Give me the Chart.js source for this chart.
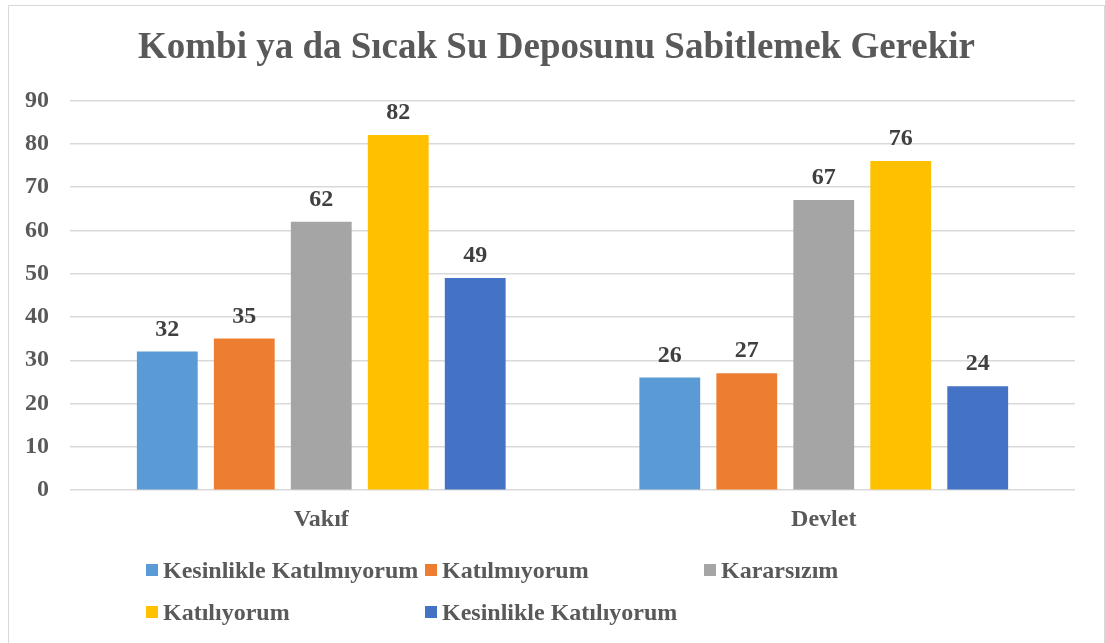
<!DOCTYPE html>
<html>
<head>
<meta charset="utf-8">
<script src="https://cdn.jsdelivr.net/npm/chart.js@4/dist/chart.umd.min.js"></script>
<style>
    html, body { margin: 0; padding: 0; background: #fff; }
    #wrap { position: relative; width: 1105px; height: 643px; overflow: hidden; }
    #frame { position: absolute; left: 8px; top: 5px; width: 1097px; height: 660px; border: 1px solid #d9d9d9; box-sizing: border-box; pointer-events: none; }
    #legend { position: absolute; left: 0; top: 0; font: bold 24px "Liberation Serif", "Times New Roman", serif; color: #595959; }
    .item { position: absolute; white-space: nowrap; display: flex; align-items: center; height: 30px; }
    .box { width: 12px; height: 12px; margin-right: 5px; }
</style>
</head>
<body>
<div id="wrap">
    <canvas id="chart" width="1105" height="643"></canvas>
    <div id="frame"></div>
    <div id="legend"></div>
</div>
<script>
const titleText = 'Kombi ya da Sıcak Su Deposunu Sabitlemek Gerekir';
const categories = ['Vakıf', 'Devlet'];
const seriesNames = ['Kesinlikle Katılmıyorum', 'Katılmıyorum', 'Kararsızım', 'Katılıyorum', 'Kesinlikle Katılıyorum'];
const seriesColors = ['#5B9BD5', '#ED7D31', '#A5A5A5', '#FFC000', '#4472C4'];
const kesinlikleKatilmiyorum = [32, 26];
const katilmiyorum = [35, 27];
const kararsizim = [62, 67];
const katiliyorum = [82, 76];
const kesinlikleKatiliyorum = [49, 24];
const seriesValues = [kesinlikleKatilmiyorum, katilmiyorum, kararsizim, katiliyorum, kesinlikleKatiliyorum];
const yTicks = [0, 10, 20, 30, 40, 50, 60, 70, 80, 90];

const FONT = '"Liberation Serif", "Times New Roman", serif';
const TEXT = '#595959';

// etiquetas de valor sobre as barras
const valueLabels = {
    id: 'valueLabels',
    afterDatasetsDraw(chart) {
        const ctx = chart.ctx;
        ctx.save();
        ctx.font = 'bold 24px ' + FONT;
        ctx.fillStyle = '#404040';
        ctx.textAlign = 'center';
        ctx.textBaseline = 'middle';
        chart.data.datasets.forEach((ds, i) => {
            chart.getDatasetMeta(i).data.forEach((bar, j) => {
                ctx.fillText(ds.data[j], bar.x, bar.y - 22);
            });
        });
        ctx.restore();
    }
};

new Chart(document.getElementById('chart'), {
    type: 'bar',
    data: {
        labels: categories,
        datasets: seriesNames.map((name, i) => ({
            label: name,
            data: seriesValues[i],
            backgroundColor: seriesColors[i],
            categoryPercentage: 0.766,
            barPercentage: 0.79
        }))
    },
    options: {
        responsive: false,
        animation: false,
        layout: { padding: { left: 16, right: 8, top: 0, bottom: 102 } },
        plugins: {
            legend: { display: false },
            tooltip: { enabled: false },
            title: {
                display: true,
                text: titleText,
                color: TEXT,
                font: { family: FONT, size: 37, weight: 'bold' },
                padding: { top: 26, bottom: 30 }
            }
        },
        scales: {
            x: {
                grid: { display: false },
                border: { display: false },
                ticks: { color: TEXT, font: { family: FONT, size: 24, weight: 'bold' }, padding: 7 }
            },
            y: {
                min: 0,
                max: 90,
                afterFit: scale => { scale.width = 54; },
                afterBuildTicks: scale => { scale.ticks = yTicks.map(v => ({ value: v })); },
                grid: { color: '#d9d9d9', lineWidth: 1.5, drawTicks: false },
                border: { display: false },
                ticks: { color: TEXT, font: { family: FONT, size: 24, weight: 'bold' }, padding: 21 }
            },
            // eixo vazio à direita, só para reservar a margem
            yRight: {
                position: 'right',
                min: 0,
                max: 1,
                afterFit: scale => { scale.width = 22; },
                grid: { display: false },
                border: { display: false },
                ticks: { display: false }
            }
        }
    },
    plugins: [valueLabels]
});

// legenda em grade, como no original
const legendPos = [[146, 570], [425, 570], [704, 570], [146, 612], [425, 612]];
const legend = document.getElementById('legend');
seriesNames.forEach((name, i) => {
    const item = document.createElement('div');
    item.className = 'item';
    item.style.left = legendPos[i][0] + 'px';
    item.style.top = (legendPos[i][1] - 15) + 'px';
    item.innerHTML = '<span class="box" style="background:' + seriesColors[i] + '"></span><span>' + name + '</span>';
    legend.appendChild(item);
});
</script>
</body>
</html>
